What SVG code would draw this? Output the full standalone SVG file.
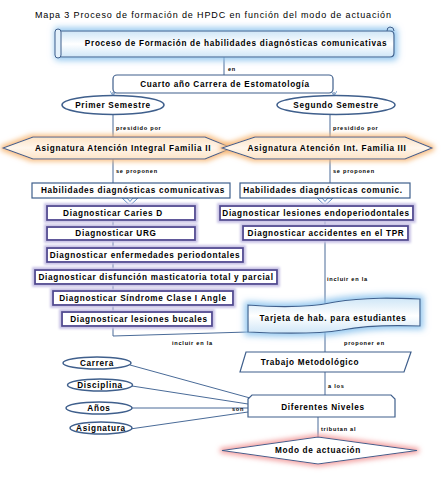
<svg xmlns="http://www.w3.org/2000/svg" width="442" height="477" viewBox="0 0 442 477">
<style>
text{font-family:"Liberation Sans",Arial,sans-serif;fill:#000}
.t{font-size:8.2px;font-weight:bold;letter-spacing:0.7px;text-anchor:middle;dominant-baseline:central}
.l{font-size:5.6px;font-weight:bold;letter-spacing:0.75px;dominant-baseline:central}
.ln{fill:none;stroke:#4a6b98;stroke-width:1}
.bx{fill:#fff;stroke:#3f5f8c;stroke-width:1.2}
.dg{fill:#fff;stroke:#4f4790;stroke-width:1.8;filter:url(#gLav)}
.el{fill:#fff;stroke:#3f5f8c;stroke-width:1.5}
</style>
<defs>
<filter id="gBlue" x="-20%" y="-60%" width="140%" height="220%">
<feMorphology in="SourceAlpha" operator="dilate" radius="3" result="d"/>
<feGaussianBlur in="d" stdDeviation="3" result="b"/>
<feFlood flood-color="#8cc3ee" flood-opacity="0.9"/>
<feComposite in2="b" operator="in" result="g"/>
<feMerge><feMergeNode in="g"/><feMergeNode in="SourceGraphic"/></feMerge>
</filter>
<filter id="gOr" x="-20%" y="-60%" width="140%" height="220%">
<feMorphology in="SourceAlpha" operator="dilate" radius="2" result="d"/>
<feGaussianBlur in="d" stdDeviation="2.5" result="b"/>
<feFlood flood-color="#f7b978" flood-opacity="0.9"/>
<feComposite in2="b" operator="in" result="g"/>
<feMerge><feMergeNode in="g"/><feMergeNode in="SourceGraphic"/></feMerge>
</filter>
<filter id="gRed" x="-20%" y="-60%" width="140%" height="220%">
<feMorphology in="SourceAlpha" operator="dilate" radius="2" result="d"/>
<feGaussianBlur in="d" stdDeviation="2.5" result="b"/>
<feFlood flood-color="#f29a9a" flood-opacity="0.9"/>
<feComposite in2="b" operator="in" result="g"/>
<feMerge><feMergeNode in="g"/><feMergeNode in="SourceGraphic"/></feMerge>
</filter>
<filter id="gLav" x="-10%" y="-50%" width="120%" height="200%">
<feMorphology in="SourceAlpha" operator="dilate" radius="2" result="d"/>
<feGaussianBlur in="d" stdDeviation="1" result="b"/>
<feFlood flood-color="#c8c2e6" flood-opacity="1"/>
<feComposite in2="b" operator="in" result="g"/>
<feMerge><feMergeNode in="g"/><feMergeNode in="SourceGraphic"/></feMerge>
</filter>
<linearGradient id="blueF" x1="0" y1="0" x2="0" y2="1">
<stop offset="0" stop-color="#cfe6f7"/><stop offset="0.5" stop-color="#ffffff"/><stop offset="1" stop-color="#cfe6f7"/>
</linearGradient>
<linearGradient id="orF" x1="0" y1="0" x2="0" y2="1">
<stop offset="0" stop-color="#fde3c6"/><stop offset="0.5" stop-color="#fff6ec"/><stop offset="1" stop-color="#fde3c6"/>
</linearGradient>
<marker id="ah" markerWidth="6" markerHeight="6" refX="5" refY="3" orient="auto" markerUnits="userSpaceOnUse">
<path d="M0,0 L5,3 L0,6" fill="none" stroke="#7fa6d0" stroke-width="1"/>
</marker>
</defs>

<text x="213" y="18" font-size="9" text-anchor="middle" textLength="356" lengthAdjust="spacing">Mapa 3  Proceso de formación de HPDC en función del modo de actuación</text>

<g id="connectors">
<path class="ln" d="M224,57 V75"/>
<path class="ln" d="M113,92 V96" marker-end="url(#ah)"/>
<path class="ln" d="M334,92 V96" marker-end="url(#ah)"/>
<path class="ln" d="M113,115 V137 M113,159 V183"/>
<path class="ln" d="M330,115 V137 M330,159 V183"/>
<path class="ln" d="M113,220 V336 L248,332"/>
<path class="ln" d="M325,219 V304 M325,330 V352 M325,372 V395"/>
<path class="ln" d="M318,417 V437"/>
<path class="ln" d="M130,365 L250,398 M132,386 L248,404 M132,408 L248,408 M130,429 L248,412"/>
<path d="M122,198 L127,198 L130,201.5 L133,198 L138,198 L130,205.5 Z" fill="#fff" stroke="#5b8bc4" stroke-width="1"/>
<path d="M317,198 L322,198 L325,201.5 L328,198 L333,198 L325,205.5 Z" fill="#fff" stroke="#5b8bc4" stroke-width="1"/>
<text class="l" x="228" y="69">en</text>
<text class="l" x="116" y="128">presidido por</text>
<text class="l" x="333" y="128">presidido por</text>
<text class="l" x="116" y="171">se proponen</text>
<text class="l" x="333" y="171">se proponen</text>
<text class="l" x="327" y="279">incluir en la</text>
<text class="l" x="172" y="343">incluir en la</text>
<text class="l" x="344" y="343">proponer en</text>
<text class="l" x="328" y="386">a los</text>
<text class="l" x="232" y="409">son</text>
<text class="l" x="321" y="429">tributan al</text>
</g>

<g id="proceso">
<g filter="url(#gBlue)">
<path d="M58,31 H390 Q394,31 394,35 V53 Q394,57 390,57 H62 Q58,57 58,53 Z" fill="url(#blueF)" stroke="#3f5f8c" stroke-width="1.2"/>
</g>
<rect x="55" y="29" width="6" height="29" rx="3" fill="#e4f1fb" stroke="#3f5f8c" stroke-width="1"/>
<path d="M387,31 Q387,27 390,27 Q394,27 394,31" fill="none" stroke="#3f5f8c" stroke-width="1"/>
<text class="t" x="236" y="43">Proceso de Formación de habilidades diagnósticas comunicativas</text>
</g>

<g id="cuarto">
<rect class="bx" x="113" y="75" width="220" height="18" rx="4"/>
<text class="t" x="225" y="84">Cuarto año Carrera de Estomatología</text>
</g>

<g id="primer">
<ellipse class="el" cx="113" cy="105" rx="51" ry="9.5"/>
<text class="t" x="113" y="105">Primer Semestre</text>
</g>
<g id="segundo">
<ellipse class="el" cx="336" cy="105" rx="59" ry="9.5"/>
<text class="t" x="336" y="105">Segundo Semestre</text>
</g>

<g id="asig1">
<path filter="url(#gOr)" d="M3,148 L33,137 L205,137 L232,148 L205,159 L33,159 Z" fill="url(#orF)" stroke="#3f5f8c" stroke-width="1.1"/>
<text class="t" x="123" y="148">Asignatura Atención Integral Familia II</text>
</g>
<g id="asig2">
<path filter="url(#gOr)" d="M222,148 L255,137 L405,137 L432,148 L405,159 L255,159 Z" fill="url(#orF)" stroke="#3f5f8c" stroke-width="1.1"/>
<text class="t" x="327" y="148">Asignatura Atención Int. Familia III</text>
</g>

<g id="hab1">
<rect class="bx" x="32" y="183" width="198" height="15"/>
<text class="t" x="133" y="190.5">Habilidades diagnósticas comunicativas</text>
</g>
<g id="hab2">
<rect class="bx" x="240" y="183" width="170" height="15"/>
<text class="t" x="323" y="190.5">Habilidades diagnósticas comunic.</text>
</g>

<g id="d1"><rect class="dg" x="47" y="206" width="148" height="14"/><text class="t" x="113" y="213">Diagnosticar Caries D</text></g>
<g id="d2"><rect class="dg" x="47" y="227" width="148" height="13"/><text class="t" x="116" y="233.5">Diagnosticar URG</text></g>
<g id="d3"><rect class="dg" x="47" y="248" width="196" height="14"/><text class="t" x="145" y="255">Diagnosticar enfermedades periodontales</text></g>
<g id="d4"><rect class="dg" x="35" y="270" width="242" height="14"/><text class="t" x="156" y="277">Diagnosticar disfunción masticatoria total y parcial</text></g>
<g id="d5"><rect class="dg" x="53" y="291" width="180" height="14"/><text class="t" x="143" y="298">Diagnosticar  Síndrome Clase I Angle</text></g>
<g id="d6"><rect class="dg" x="62" y="312" width="150" height="14"/><text class="t" x="139" y="319">Diagnosticar lesiones bucales</text></g>
<g id="d7"><rect class="dg" x="220" y="206" width="193" height="14"/><text class="t" x="316" y="213">Diagnosticar lesiones endoperiodontales</text></g>
<g id="d8"><rect class="dg" x="243" y="226" width="165" height="14"/><text class="t" x="326" y="233">Diagnosticar accidentes en el TPR</text></g>

<g id="tarjeta">
<path filter="url(#gBlue)" d="M248,305 C285,308 312,307 335,302 C365,297 395,298 420,299 L420,326 C395,325 368,325 342,330 C318,334 288,334 248,332 Z" fill="url(#blueF)" stroke="#3f5f8c" stroke-width="1.2"/>
<text class="t" x="333" y="318">Tarjeta de hab. para estudiantes</text>
</g>

<g id="trabajo">
<path class="bx" d="M246,352 L411,352 L404,372 L240,372 Z"/>
<text class="t" x="310" y="362">Trabajo Metodológico</text>
</g>

<g id="niveles">
<path class="bx" d="M248,417 V399 L252,395 H391 L395,399 V417 Z"/>
<text class="t" x="323" y="407">Diferentes Niveles</text>
</g>

<g id="carrera"><ellipse class="el" cx="97" cy="363" rx="34" ry="6"/><text class="t" x="97" y="363">Carrera</text></g>
<g id="disciplina"><ellipse class="el" cx="100" cy="385" rx="32.5" ry="6"/><text class="t" x="100" y="385">Disciplina</text></g>
<g id="anos"><ellipse class="el" cx="99" cy="408" rx="33" ry="6"/><text class="t" x="99" y="408">Años</text></g>
<g id="asignatura"><ellipse class="el" cx="101" cy="428" rx="31" ry="6"/><text class="t" x="101" y="428">Asignatura</text></g>

<g id="modo">
<path filter="url(#gRed)" d="M318,437 L417,450.5 L318,464 L222,450.5 Z" fill="#fff" stroke="#3f5f8c" stroke-width="1.2"/>
<text class="t" x="318" y="450.5">Modo de actuación</text>
</g>
</svg>
